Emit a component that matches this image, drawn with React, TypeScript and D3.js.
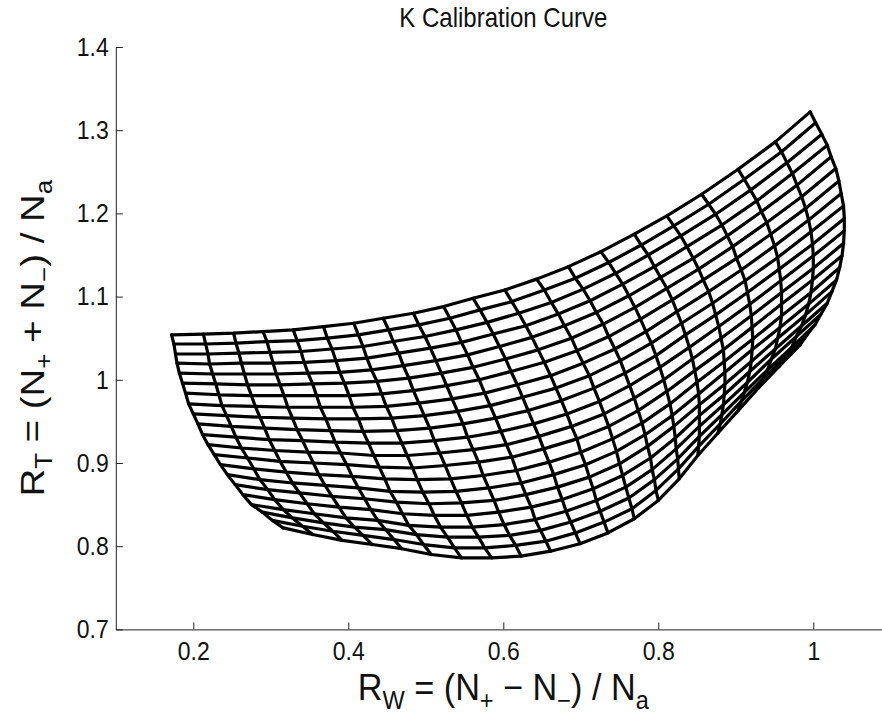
import React, { useEffect, useRef } from "react";
import * as d3 from "d3";

// axis ticks
const xTicks = [0.2, 0.4, 0.6, 0.8, 1];
const yTicks = [0.7, 0.8, 0.9, 1, 1.1, 1.2, 1.3, 1.4];

// mesh nodes: one row per line of the grid (top edge first),
// 21 columns per row (left edge first)
const rwRows = [
  [0.172, 0.213, 0.252, 0.290, 0.329, 0.368, 0.407, 0.445, 0.484, 0.523, 0.561, 0.602, 0.643, 0.684, 0.726, 0.769, 0.811, 0.856, 0.903, 0.951, 0.996],
  [0.175, 0.216, 0.255, 0.295, 0.334, 0.373, 0.413, 0.452, 0.491, 0.531, 0.570, 0.611, 0.653, 0.693, 0.736, 0.778, 0.820, 0.865, 0.911, 0.959, 1.003],
  [0.177, 0.219, 0.259, 0.299, 0.339, 0.379, 0.419, 0.458, 0.499, 0.539, 0.579, 0.620, 0.662, 0.703, 0.745, 0.787, 0.829, 0.874, 0.919, 0.966, 1.011],
  [0.179, 0.221, 0.262, 0.303, 0.343, 0.384, 0.424, 0.465, 0.506, 0.546, 0.587, 0.629, 0.671, 0.712, 0.754, 0.795, 0.837, 0.882, 0.927, 0.973, 1.018],
  [0.182, 0.225, 0.266, 0.307, 0.348, 0.389, 0.430, 0.471, 0.513, 0.554, 0.595, 0.637, 0.679, 0.720, 0.762, 0.803, 0.845, 0.889, 0.933, 0.979, 1.023],
  [0.186, 0.229, 0.270, 0.312, 0.354, 0.395, 0.437, 0.478, 0.520, 0.561, 0.603, 0.645, 0.688, 0.729, 0.770, 0.811, 0.852, 0.896, 0.940, 0.985, 1.029],
  [0.190, 0.233, 0.275, 0.317, 0.359, 0.401, 0.443, 0.484, 0.527, 0.569, 0.610, 0.653, 0.695, 0.736, 0.777, 0.818, 0.858, 0.901, 0.945, 0.990, 1.033],
  [0.194, 0.237, 0.280, 0.322, 0.364, 0.406, 0.449, 0.491, 0.534, 0.576, 0.618, 0.661, 0.703, 0.744, 0.784, 0.824, 0.865, 0.907, 0.950, 0.994, 1.036],
  [0.200, 0.243, 0.286, 0.328, 0.371, 0.413, 0.456, 0.498, 0.541, 0.583, 0.625, 0.668, 0.711, 0.751, 0.791, 0.830, 0.870, 0.912, 0.954, 0.997, 1.039],
  [0.206, 0.249, 0.292, 0.334, 0.377, 0.419, 0.462, 0.505, 0.548, 0.590, 0.632, 0.675, 0.717, 0.757, 0.797, 0.835, 0.874, 0.915, 0.956, 0.999, 1.040],
  [0.212, 0.255, 0.298, 0.341, 0.383, 0.426, 0.469, 0.511, 0.554, 0.597, 0.639, 0.682, 0.724, 0.763, 0.802, 0.840, 0.878, 0.918, 0.958, 1.000, 1.040],
  [0.219, 0.262, 0.305, 0.348, 0.390, 0.433, 0.476, 0.518, 0.561, 0.604, 0.646, 0.688, 0.730, 0.769, 0.807, 0.844, 0.881, 0.920, 0.959, 1.000, 1.039],
  [0.227, 0.270, 0.312, 0.355, 0.398, 0.440, 0.483, 0.525, 0.568, 0.611, 0.652, 0.695, 0.736, 0.774, 0.811, 0.847, 0.884, 0.921, 0.959, 0.999, 1.037],
  [0.235, 0.278, 0.320, 0.362, 0.405, 0.447, 0.489, 0.532, 0.574, 0.617, 0.659, 0.700, 0.741, 0.779, 0.815, 0.850, 0.885, 0.922, 0.959, 0.997, 1.034],
  [0.244, 0.286, 0.328, 0.370, 0.413, 0.454, 0.496, 0.539, 0.581, 0.623, 0.665, 0.706, 0.746, 0.783, 0.818, 0.852, 0.886, 0.921, 0.957, 0.994, 1.030],
  [0.254, 0.296, 0.337, 0.379, 0.421, 0.462, 0.504, 0.546, 0.588, 0.629, 0.670, 0.711, 0.750, 0.786, 0.820, 0.853, 0.886, 0.920, 0.954, 0.990, 1.024],
  [0.264, 0.305, 0.347, 0.388, 0.429, 0.470, 0.511, 0.553, 0.594, 0.636, 0.676, 0.716, 0.754, 0.790, 0.822, 0.853, 0.885, 0.918, 0.951, 0.985, 1.018],
  [0.275, 0.316, 0.356, 0.397, 0.438, 0.478, 0.519, 0.560, 0.601, 0.641, 0.681, 0.720, 0.758, 0.792, 0.823, 0.853, 0.884, 0.915, 0.946, 0.978, 1.010],
  [0.289, 0.328, 0.368, 0.408, 0.448, 0.488, 0.528, 0.568, 0.608, 0.648, 0.687, 0.725, 0.762, 0.795, 0.825, 0.853, 0.882, 0.911, 0.941, 0.972, 1.002],
  [0.302, 0.341, 0.380, 0.419, 0.459, 0.497, 0.537, 0.576, 0.616, 0.655, 0.693, 0.730, 0.766, 0.797, 0.826, 0.852, 0.880, 0.907, 0.935, 0.964, 0.992],
  [0.316, 0.354, 0.392, 0.431, 0.469, 0.507, 0.546, 0.585, 0.623, 0.661, 0.699, 0.735, 0.769, 0.800, 0.827, 0.851, 0.877, 0.903, 0.929, 0.956, 0.983],
];

const rtRows = [
  [1.054, 1.055, 1.056, 1.058, 1.060, 1.064, 1.068, 1.074, 1.080, 1.088, 1.098, 1.108, 1.121, 1.136, 1.154, 1.175, 1.197, 1.223, 1.253, 1.286, 1.322],
  [1.043, 1.043, 1.044, 1.046, 1.047, 1.050, 1.054, 1.060, 1.066, 1.074, 1.084, 1.094, 1.108, 1.122, 1.141, 1.162, 1.185, 1.211, 1.241, 1.274, 1.309],
  [1.031, 1.031, 1.032, 1.033, 1.034, 1.037, 1.040, 1.046, 1.052, 1.060, 1.069, 1.080, 1.093, 1.109, 1.128, 1.150, 1.173, 1.199, 1.228, 1.261, 1.295],
  [1.020, 1.019, 1.020, 1.020, 1.021, 1.023, 1.026, 1.032, 1.038, 1.045, 1.055, 1.065, 1.079, 1.095, 1.115, 1.136, 1.160, 1.186, 1.215, 1.248, 1.282],
  [1.008, 1.007, 1.007, 1.007, 1.008, 1.009, 1.012, 1.017, 1.023, 1.030, 1.040, 1.051, 1.065, 1.081, 1.101, 1.123, 1.146, 1.173, 1.202, 1.234, 1.268],
  [0.996, 0.995, 0.994, 0.994, 0.995, 0.996, 0.998, 1.002, 1.008, 1.015, 1.025, 1.036, 1.050, 1.067, 1.087, 1.110, 1.133, 1.160, 1.189, 1.220, 1.254],
  [0.984, 0.982, 0.981, 0.981, 0.981, 0.981, 0.983, 0.987, 0.993, 1.000, 1.010, 1.021, 1.035, 1.052, 1.073, 1.096, 1.120, 1.146, 1.175, 1.206, 1.239],
  [0.971, 0.969, 0.968, 0.967, 0.967, 0.967, 0.968, 0.972, 0.977, 0.984, 0.994, 1.005, 1.020, 1.037, 1.058, 1.082, 1.106, 1.132, 1.161, 1.192, 1.224],
  [0.959, 0.957, 0.955, 0.954, 0.953, 0.953, 0.954, 0.957, 0.962, 0.969, 0.979, 0.990, 1.005, 1.023, 1.044, 1.068, 1.092, 1.119, 1.147, 1.178, 1.209],
  [0.947, 0.944, 0.942, 0.940, 0.939, 0.938, 0.939, 0.942, 0.947, 0.954, 0.963, 0.975, 0.990, 1.008, 1.029, 1.054, 1.078, 1.105, 1.133, 1.163, 1.194],
  [0.934, 0.931, 0.928, 0.927, 0.925, 0.924, 0.924, 0.927, 0.931, 0.938, 0.947, 0.959, 0.974, 0.993, 1.015, 1.039, 1.064, 1.091, 1.119, 1.149, 1.179],
  [0.922, 0.918, 0.915, 0.913, 0.912, 0.909, 0.909, 0.912, 0.916, 0.922, 0.932, 0.944, 0.959, 0.978, 1.000, 1.025, 1.050, 1.077, 1.105, 1.134, 1.164],
  [0.910, 0.906, 0.902, 0.900, 0.898, 0.895, 0.894, 0.897, 0.901, 0.907, 0.917, 0.929, 0.944, 0.963, 0.986, 1.011, 1.036, 1.063, 1.091, 1.120, 1.149],
  [0.898, 0.893, 0.889, 0.886, 0.884, 0.881, 0.880, 0.881, 0.885, 0.891, 0.901, 0.913, 0.929, 0.948, 0.971, 0.997, 1.022, 1.049, 1.077, 1.105, 1.135],
  [0.886, 0.880, 0.876, 0.873, 0.870, 0.866, 0.865, 0.866, 0.870, 0.876, 0.886, 0.898, 0.914, 0.934, 0.957, 0.983, 1.009, 1.036, 1.063, 1.091, 1.120],
  [0.874, 0.868, 0.864, 0.860, 0.857, 0.853, 0.851, 0.852, 0.855, 0.862, 0.871, 0.883, 0.899, 0.920, 0.944, 0.970, 0.995, 1.022, 1.050, 1.078, 1.106],
  [0.862, 0.856, 0.851, 0.847, 0.844, 0.839, 0.837, 0.837, 0.841, 0.847, 0.856, 0.869, 0.885, 0.906, 0.930, 0.957, 0.982, 1.010, 1.037, 1.065, 1.092],
  [0.850, 0.844, 0.839, 0.834, 0.831, 0.825, 0.823, 0.823, 0.826, 0.832, 0.842, 0.855, 0.871, 0.892, 0.917, 0.944, 0.970, 0.997, 1.025, 1.052, 1.079],
  [0.841, 0.834, 0.828, 0.823, 0.820, 0.814, 0.811, 0.811, 0.813, 0.819, 0.829, 0.842, 0.858, 0.880, 0.905, 0.932, 0.958, 0.985, 1.012, 1.039, 1.066],
  [0.831, 0.824, 0.818, 0.813, 0.808, 0.802, 0.798, 0.798, 0.801, 0.806, 0.816, 0.829, 0.845, 0.867, 0.893, 0.920, 0.947, 0.974, 1.001, 1.028, 1.054],
  [0.822, 0.814, 0.807, 0.802, 0.797, 0.790, 0.786, 0.786, 0.788, 0.794, 0.803, 0.816, 0.833, 0.855, 0.881, 0.909, 0.936, 0.963, 0.990, 1.016, 1.042],
];

const titleText = "K Calibration Curve";
// [text, is subscript]
const xLabelParts: [string, boolean][] = [
  ["R", false], ["W", true], [" = (N", false], ["+", true],
  [" \u2212 N", false], ["\u2212", true], [") / N", false], ["a", true],
];
const yLabelParts: [string, boolean][] = [
  ["R", false], ["T", true], [" = (N", false], ["+", true],
  [" + N", false], ["\u2212", true], [") / N", false], ["a", true],
];

const FONT = "'Liberation Sans', Arial, Helvetica, sans-serif";
const STRETCH = 1.13; // the figure's text is drawn a little taller than wide

export default function App() {
  const ref = useRef<SVGSVGElement>(null);

  useEffect(() => {
    const svg = d3.select(ref.current);
    svg.selectAll("*").remove();

    const x = d3.scaleLinear().domain([0.1, 1.1]).range([115.8, 890.8]);
    const y = d3.scaleLinear().domain([0.7, 1.4]).range([629.4, 47]);

    // axes (ticks point inward, like matlab)
    const xAxis = d3
      .axisBottom(x)
      .tickValues(xTicks)
      .tickFormat((d) => String(d))
      .tickSizeInner(-7)
      .tickSizeOuter(0)
      .tickPadding(11);
    const yAxis = d3
      .axisLeft(y)
      .tickValues(yTicks)
      .tickFormat((d) => String(d))
      .tickSizeInner(-7)
      .tickSizeOuter(0)
      .tickPadding(7);

    const xg = svg
      .append("g")
      .attr("transform", `translate(0,${y(0.7)})`)
      .call(xAxis);
    const yg = svg
      .append("g")
      .attr("transform", `translate(${x(0.1)},0)`)
      .call(yAxis);
    [xg, yg].forEach((g) => {
      g.attr("font-family", FONT).attr("font-size", 23);
      g.selectAll("path.domain").attr("stroke", "#222").attr("stroke-width", 1);
      g.selectAll(".tick line").attr("stroke", "#222").attr("stroke-width", 1);
      g.selectAll(".tick text")
        .attr("fill", "#111")
        .attr("transform", `scale(1,${STRETCH})`);
    });

    // mesh lines
    const line = d3
      .line<[number, number]>()
      .x((d) => x(d[0]))
      .y((d) => y(d[1]));
    const mesh = svg
      .append("g")
      .attr("fill", "none")
      .attr("stroke", "#000")
      .attr("stroke-width", 3.2)
      .attr("stroke-linejoin", "round")
      .attr("stroke-linecap", "round");
    rwRows.forEach((row, j) => {
      const pts = row.map((v, i) => [v, rtRows[j][i]] as [number, number]);
      mesh.append("path").attr("d", line(pts));
    });
    rwRows[0].forEach((_, i) => {
      const pts = rwRows.map((row, j) => [row[i], rtRows[j][i]] as [number, number]);
      mesh.append("path").attr("d", line(pts));
    });

    // title
    svg
      .append("text")
      .attr(
        "transform",
        `translate(${(x(0.1) + x(1.1)) / 2},27) scale(1,${STRETCH})`
      )
      .attr("text-anchor", "middle")
      .attr("font-family", FONT)
      .attr("font-size", 24)
      .attr("fill", "#111")
      .text(titleText);

    const addLabel = (
      parts: [string, boolean][],
      tx: number,
      ty: number,
      rotated: boolean,
      size: number,
      widen: number
    ) => {
      const t = svg
        .append("text")
        .attr(
          "transform",
          rotated
            ? `translate(${tx},${ty}) scale(1,${STRETCH}) rotate(-90)`
            : `translate(${tx},${ty}) scale(${widen},${STRETCH})`
        )
        .attr("text-anchor", "middle")
        .attr("font-family", FONT)
        .attr("fill", "#111")
        .style("white-space", "pre");
      let prevSub = false;
      parts.forEach(([s, sub]) => {
        t.append("tspan")
          .attr("font-size", sub ? Math.round(size * 0.68) : size)
          .attr("dy", sub ? 8 : prevSub ? -8 : 0)
          .text(s);
        prevSub = sub;
      });
    };
    addLabel(xLabelParts, (x(0.1) + x(1.1)) / 2, 700, false, 32, 1.07);
    addLabel(yLabelParts, 44, (y(0.7) + y(1.4)) / 2, true, 34, 1);
  }, []);

  return (
    <div style={{ position: "absolute", left: 0, top: 0 }}>
      <svg
        ref={ref}
        width={882}
        height={714}
        style={{ display: "block", background: "#fff" }}
      />
    </div>
  );
}
